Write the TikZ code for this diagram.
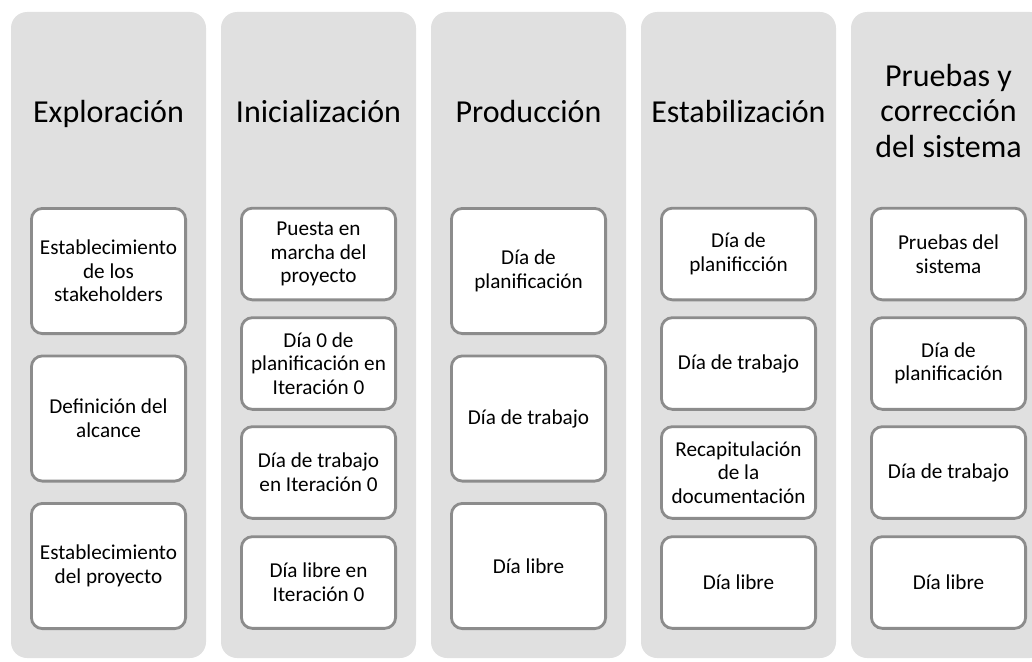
\documentclass[tikz,border=0pt]{standalone}
\usepackage{fontspec}
\setmainfont{Carlito}
\definecolor{colfill}{RGB}{224,224,224}
\definecolor{boxdraw}{RGB}{140,140,140}
\begin{document}
\begin{tikzpicture}[x=1pt,y=-1pt,
  column/.style={fill=colfill, draw=none, rounded corners=16pt, minimum width=195pt, minimum height=646pt, inner sep=0pt},
  title/.style={font=\fontsize{32}{35.5}\selectfont, align=center, inner sep=0pt, anchor=base},
  card/.style={fill=white, draw=boxdraw, line width=2.8pt, rounded corners=11pt, minimum width=154.2pt, align=center, font=\fontsize{21.2}{23.6}\selectfont, inner sep=0pt},
  tall/.style={card, minimum height=125.2pt},
  short/.style={card, minimum height=91.7pt}]
\useasboundingbox (0,0) rectangle (1032,661);
% columns
\node[column] (c1) at (108.5,335) {};
\node[column] (c2) at (318.5,335) {};
\node[column] (c3) at (528.5,335) {};
\node[column] (c4) at (738.5,335) {};
\node[column] (c5) at (948.5,335) {};
% titles
\node[title] (t1) at (108.5,122) {Exploración};
\node[title] (t2) at (318.5,122) {Inicialización};
\node[title] (t3) at (528.5,122) {Producción};
\node[title] (t4) at (738.5,122) {Estabilización};
\node[title] (t5) at (948.5,157) {Pruebas y\\corrección\\del sistema};
% column 1
\node[tall] (b11) at (108.5,271) {Establecimiento\\de los\\stakeholders};
\node[tall] (b12) at (108.5,418.5) {Definición del\\alcance};
\node[tall] (b13) at (108.5,566) {Establecimiento\\del proyecto};
% column 2
\node[short] (b21) at (318.5,254) {Puesta en\\marcha del\\proyecto};
\node[short] (b22) at (318.5,363.5) {Día 0 de\\planificación en\\Iteración 0};
\node[short] (b23) at (318.5,472.5) {Día de trabajo\\en Iteración 0};
\node[short] (b24) at (318.5,582.5) {Día libre en\\Iteración 0};
% column 3
\node[tall] (b31) at (528.5,271) {Día de\\planificación};
\node[tall] (b32) at (528.5,418.5) {Día de trabajo};
\node[tall] (b33) at (528.5,566) {Día libre};
% column 4
\node[short] (b41) at (738.5,254) {Día de\\planificción};
\node[short] (b42) at (738.5,363.5) {Día de trabajo};
\node[short] (b43) at (738.5,472.5) {Recapitulación\\de la\\documentación};
\node[short] (b44) at (738.5,582.5) {Día libre};
% column 5
\node[short] (b51) at (948.5,254) {Pruebas del\\sistema};
\node[short] (b52) at (948.5,363.5) {Día de\\planificación};
\node[short] (b53) at (948.5,472.5) {Día de trabajo};
\node[short] (b54) at (948.5,582.5) {Día libre};
\end{tikzpicture}
\end{document}
